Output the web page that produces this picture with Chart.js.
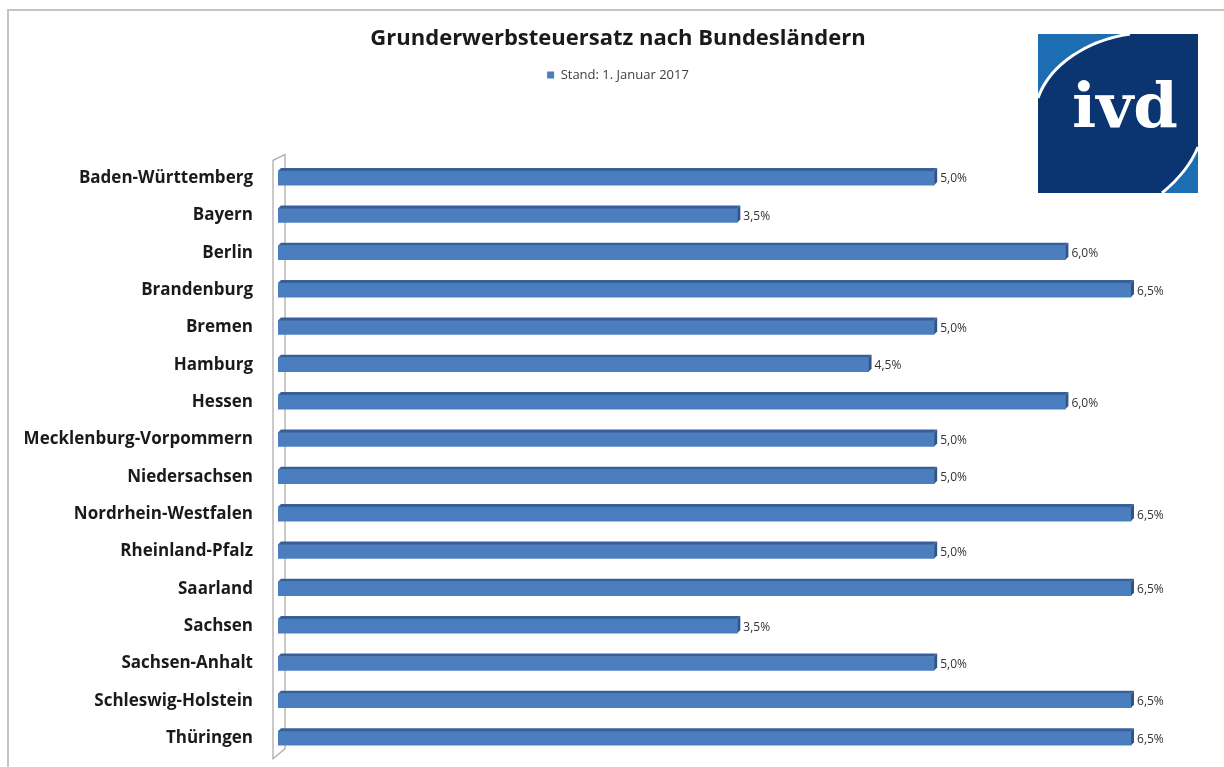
<!DOCTYPE html>
<html lang="de">
<head>
<meta charset="utf-8">
<title>Grunderwerbsteuersatz nach Bundesländern</title>
<script src="https://cdn.jsdelivr.net/npm/chart.js@4.4.0/dist/chart.umd.min.js"></script>
<style>
  body { margin: 0; background: #fff; }
  #wrap { position: relative; width: 1224px; height: 767px; overflow: hidden; }
  #frame { position: absolute; left: 7px; top: 9px; width: 1215px; height: 770px;
           border-top: 2px solid #c4c4c4; border-left: 2px solid #c4c4c4; }
  #myChart { position: absolute; left: 0; top: 0; }
  #logo { position: absolute; left: 1038px; top: 34px; width: 160px; height: 159px; }
</style>
</head>
<body>
<div id="wrap">
  <div id="frame"></div>
  <!-- canvas a bit larger than the visible area, the overflow is clipped -->
  <canvas id="myChart" width="1236" height="784"></canvas>
  <svg id="logo" viewBox="0 0 160 159" xmlns="http://www.w3.org/2000/svg">
    <rect x="0" y="0" width="160" height="159" fill="#0b3570"/>
    <path d="M0 0 H92 C50 6 12 30 0 64 Z" fill="#1d6db3"/>
    <path d="M0 64 C12 30 50 6 92 0" fill="none" stroke="#ffffff" stroke-width="3"/>
    <path d="M160 113 C150 138 130 154 124 159 H160 Z" fill="#1d6db3"/>
    <path d="M160 113 C150 138 130 154 124 159" fill="none" stroke="#ffffff" stroke-width="3"/>
    <text x="34" y="93" fill="#ffffff" font-family="DejaVu Serif" font-weight="bold" font-size="62" textLength="106" lengthAdjust="spacingAndGlyphs">ivd</text>
  </svg>
</div>
<script>
const laender = ['Baden-Württemberg', 'Bayern', 'Berlin', 'Brandenburg', 'Bremen', 'Hamburg', 'Hessen',
  'Mecklenburg-Vorpommern', 'Niedersachsen', 'Nordrhein-Westfalen', 'Rheinland-Pfalz', 'Saarland',
  'Sachsen', 'Sachsen-Anhalt', 'Schleswig-Holstein', 'Thüringen'];
const steuersatz = [5.0, 3.5, 6.0, 6.5, 5.0, 4.5, 6.0, 5.0, 5.0, 6.5, 5.0, 6.5, 3.5, 5.0, 6.5, 6.5];
const serienName = 'Stand: 1. Januar 2017';

const canvas = document.getElementById('myChart');

// left wall of the 3d axis
const wall = {
  id: 'wall',
  beforeDatasetsDraw(chart) {
    const ctx = chart.ctx;
    const a = chart.chartArea;
    ctx.save();
    ctx.beginPath();
    ctx.moveTo(a.left - 5, a.top + 1);
    ctx.lineTo(a.left + 7, a.top - 5);
    ctx.lineTo(a.left + 7, a.bottom - 8);
    ctx.lineTo(a.left - 5, a.bottom + 2);
    ctx.closePath();
    ctx.fillStyle = '#ffffff';
    ctx.fill();
    ctx.strokeStyle = '#a6a6a6';
    ctx.lineWidth = 1.2;
    ctx.stroke();
    ctx.restore();
  }
};

// top face, end cap and value labels
const bars3d = {
  id: 'bars3d',
  afterDatasetsDraw(chart) {
    const ctx = chart.ctx;
    const meta = chart.getDatasetMeta(0);
    ctx.save();
    meta.data.forEach((bar, i) => {
      const top = bar.y - bar.height / 2;
      const bottom = bar.y + bar.height / 2;
      const d = 3;
      ctx.fillStyle = '#37609a';
      ctx.beginPath();
      ctx.moveTo(bar.base, top);
      ctx.lineTo(bar.base + d, top - d);
      ctx.lineTo(bar.x + d, top - d);
      ctx.lineTo(bar.x, top);
      ctx.closePath();
      ctx.fill();
      ctx.fillStyle = '#2f5487';
      ctx.beginPath();
      ctx.moveTo(bar.x, top);
      ctx.lineTo(bar.x + d, top - d);
      ctx.lineTo(bar.x + d, bottom - d);
      ctx.lineTo(bar.x, bottom);
      ctx.closePath();
      ctx.fill();
      ctx.fillStyle = '#333333';
      ctx.font = '12px "Open Sans"';
      ctx.textBaseline = 'middle';
      ctx.textAlign = 'left';
      ctx.fillText(steuersatz[i].toFixed(1).replace('.', ',') + '%', bar.x + d + 3, bar.y + 1);
    });
    ctx.restore();
  }
};

const myChartConfig = new Chart(canvas, {
  type: 'bar',
  data: {
    labels: laender,
    datasets: [{
      label: serienName,
      data: steuersatz,
      backgroundColor: '#4a7ebf',
      borderWidth: 0,
      barThickness: 14
    }]
  },
  options: {
    indexAxis: 'y',
    responsive: false,
    animation: false,
    layout: { autoPadding: false, padding: { left: 0, right: 0, bottom: 11, top: 0 } },
    plugins: {
      title: {
        display: true,
        text: 'Grunderwerbsteuersatz nach Bundesländern',
        color: '#1a1a1a',
        font: { family: 'Open Sans', size: 22, weight: 'bold' },
        padding: { top: 26, bottom: 6 }
      },
      legend: {
        labels: {
          boxWidth: 7,
          boxHeight: 7,
          color: '#404040',
          font: { family: 'Open Sans', size: 13 }
        }
      },
      tooltip: { enabled: false }
    },
    scales: {
      x: {
        position: 'top',
        min: 0,
        max: 7.3,
        grid: { display: false },
        border: { display: false },
        ticks: { display: false },
        afterFit(scale) { scale.height = 68; }
      },
      y: {
        grid: { display: false },
        border: { display: false },
        ticks: {
          padding: 17,
          color: '#1a1a1a',
          font: { family: 'Open Sans', size: 17, weight: 'bold' }
        },
        afterFit(scale) { scale.width = 278; }
      }
    }
  },
  plugins: [wall, bars3d]
});
</script>
</body>
</html>
